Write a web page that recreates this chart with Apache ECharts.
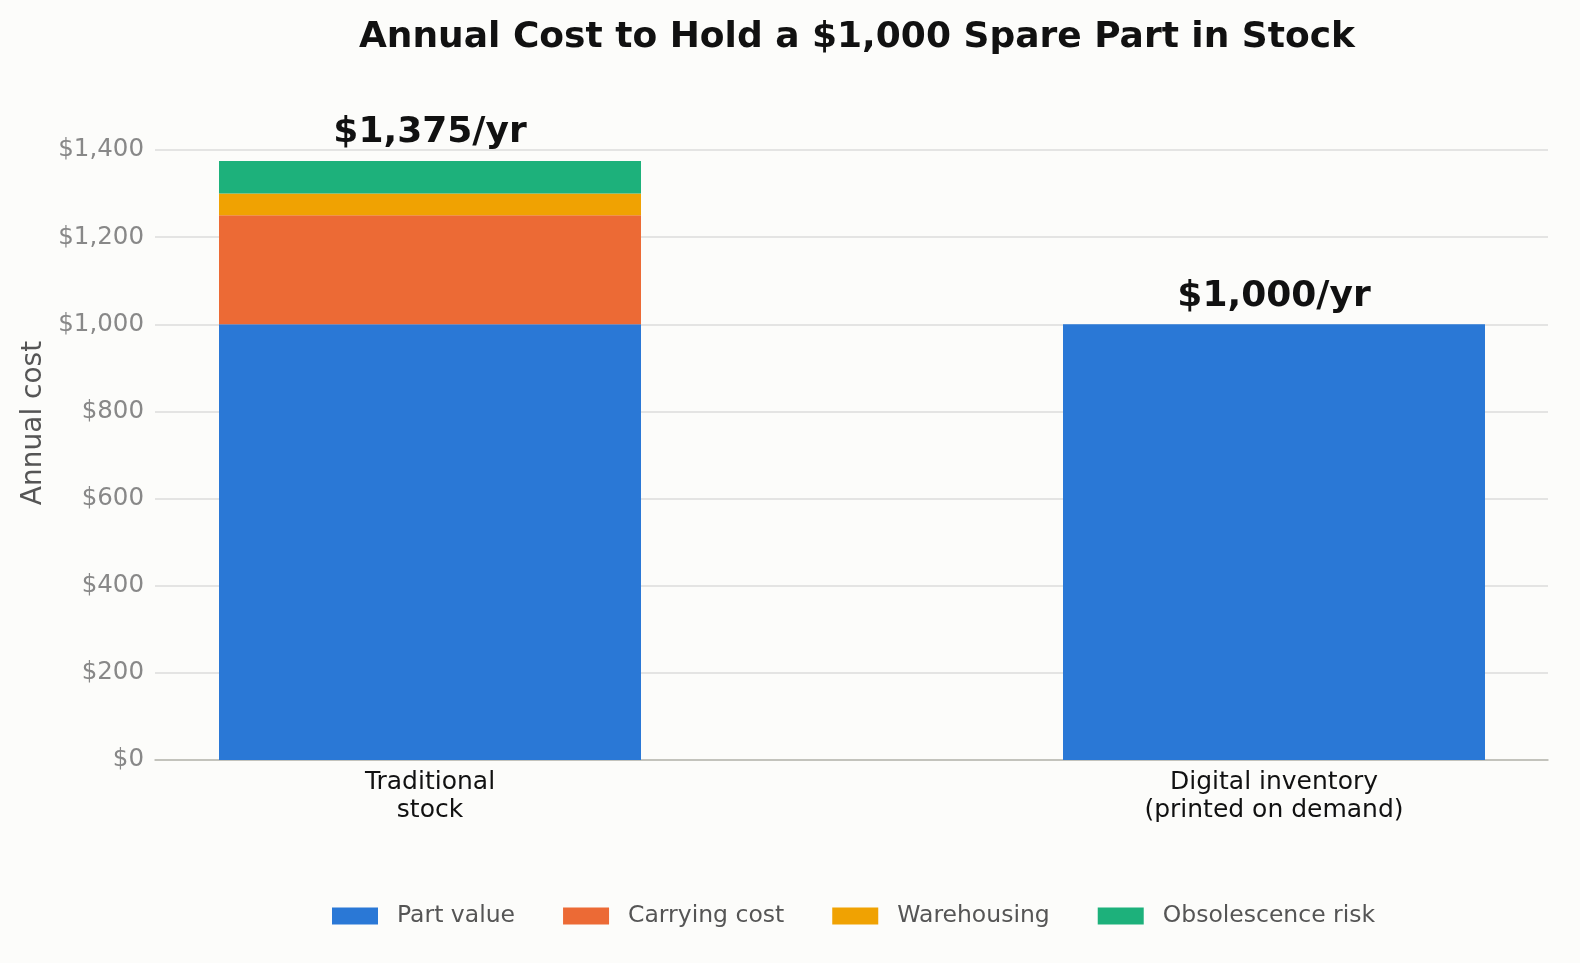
<!DOCTYPE html>
<html>
<head>
<meta charset="utf-8">
<script src="https://cdn.jsdelivr.net/npm/echarts@6/dist/echarts.min.js"></script>
<style>
  html, body { margin: 0; padding: 0; background: #fcfcfa; }
  #chart { width: 1580px; height: 963px; }
</style>
</head>
<body>
<div id="chart"></div>
<script>
// data
const categories   = ["Traditional\nstock", "Digital inventory\n(printed on demand)"];
const seriesNames  = ["Part value", "Carrying cost", "Warehousing", "Obsolescence risk"];
const partValue    = [1000, 1000];
const carryingCost = [250, 0];
const warehousing  = [50, 0];
const obsolescence = [75, 0];
const yTicks       = [0, 200, 400, 600, 800, 1000, 1200, 1400];

const colors = ["#2a78d6", "#ec6a35", "#f0a202", "#1db17b"];
const allValues = [partValue, carryingCost, warehousing, obsolescence];

let totals = categories.map((c, i) => allValues.reduce((s, arr) => s + arr[i], 0));
let money = v => "$" + v.toLocaleString("en-US");

// an empty band between the two bars gives the spacing of the reference
let pad = arr => [arr[0], null, arr[1]];
let slotTotal = [totals[0], null, totals[1]];

let series = allValues.map((arr, k) => {
    let s = {
        name: seriesNames[k],
        type: "bar",
        stack: "cost",
        xAxisIndex: 1,
        yAxisIndex: 1,
        barWidth: "100%",
        itemStyle: { color: colors[k] },
        emphasis: { disabled: true },
        data: pad(arr)
    };
    if (k === allValues.length - 1) {
        s.label = {
            show: true,
            position: "top",
            distance: 10,
            fontFamily: "DejaVu Sans",
            fontWeight: "bold",
            fontSize: 36,
            color: "#111",
            formatter: p => money(slotTotal[p.dataIndex]) + "/yr"
        };
    }
    return s;
});

let myChart = echarts.init(document.getElementById("chart"));
myChart.setOption({
    backgroundColor: "#fcfcfa",
    animation: false,
    textStyle: { fontFamily: "DejaVu Sans" },
    title: {
        text: "Annual Cost to Hold a $1,000 Spare Part in Stock",
        left: 852,
        top: 15,
        textAlign: "center",
        textStyle: { fontFamily: "DejaVu Sans", fontSize: 36, fontWeight: "bold", color: "#111" }
    },
    legend: {
        top: 899,
        left: 327,
        itemWidth: 46,
        itemHeight: 17,
        itemGap: 48,
        icon: "rect",
        textStyle: { fontSize: 23.5, color: "#555", padding: [0, 0, 0, 14] },
        data: seriesNames
    },
    grid: [
        { left: 155, right: 32, top: 150, bottom: 203 },
        { left: 219, right: 95, top: 150, bottom: 203 }
    ],
    xAxis: [
        {
            type: "category",
            gridIndex: 0,
            data: [""],
            axisLine: { show: true, lineStyle: { color: "#b8b8b0", width: 1.5 } },
            axisTick: { show: false },
            axisLabel: { show: false },
            splitLine: { show: false }
        },
        {
            type: "category",
            gridIndex: 1,
            data: [categories[0], "", categories[1]],
            axisLine: { show: false },
            axisTick: { show: false },
            splitLine: { show: false },
            axisLabel: {
                interval: 0,
                fontSize: 25,
                color: "#111",
                lineHeight: 28,
                margin: 8
            }
        }
    ],
    yAxis: [
        {
            type: "value",
            gridIndex: 0,
            min: 0,
            max: 1400,
            interval: 200,
            name: "Annual cost",
            nameLocation: "middle",
            nameGap: 106,
            nameTextStyle: { fontSize: 28, color: "#555", padding: [0, 0, 0, 64] },
            axisLine: { show: false },
            axisTick: { show: false },
            splitLine: { lineStyle: { color: "#dddddb", width: 1.5 } },
            axisLabel: {
                fontSize: 24.5,
                color: "#888",
                margin: 11,
                formatter: v => yTicks.indexOf(v) > -1 ? money(v) : ""
            }
        },
        {
            type: "value",
            gridIndex: 1,
            min: 0,
            max: 1400,
            interval: 200,
            show: false,
            splitLine: { show: false }
        }
    ],
    series: series
});
</script>
</body>
</html>
